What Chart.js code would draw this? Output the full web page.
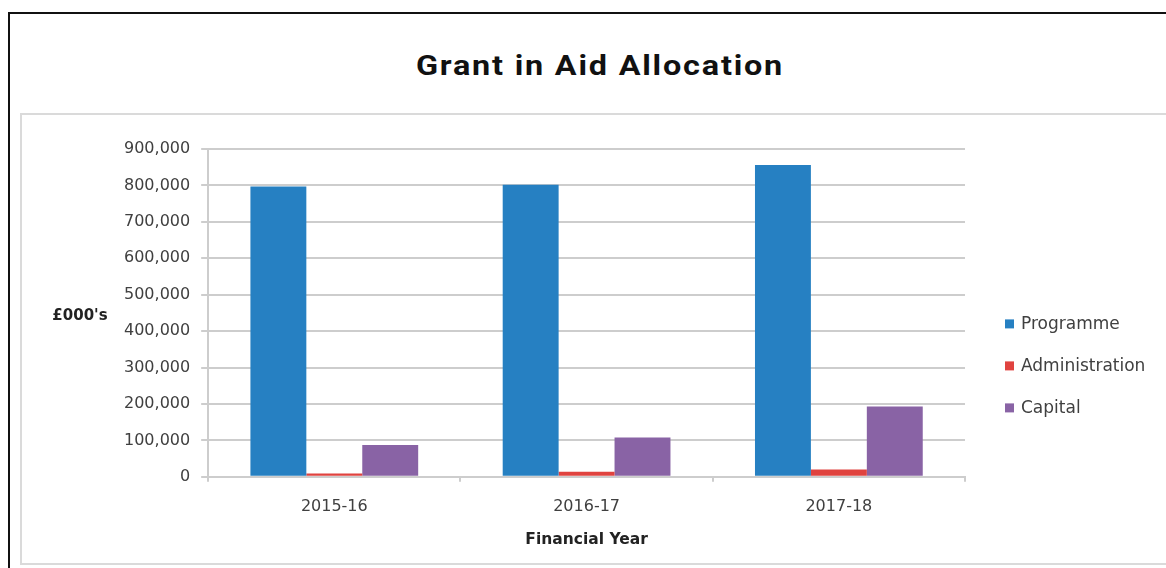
<!DOCTYPE html>
<html>
<head>
<meta charset="utf-8">
<script src="https://cdn.jsdelivr.net/npm/chart.js@4"></script>
<style>
  html, body { margin: 0; padding: 0; background: #fff; }
  body { width: 1166px; height: 568px; position: relative; overflow: hidden; }
  .outer {
    position: absolute; left: 8px; top: 12px; width: 1200px; height: 600px;
    border-top: 2px solid #111; border-left: 2px solid #111;
  }
  .title {
    position: absolute; left: 0; top: 50px; width: 1200px; text-align: center;
    font: 700 27px "Roboto", sans-serif; color: #111; letter-spacing: 1.5px;
    transform: scaleX(1.2); transform-origin: 600px 0;
  }
  .frame {
    position: absolute; left: 20px; top: 113px; width: 1200px; height: 448px;
    border: 2px solid #dadada; border-right: none;
  }
  .chart-box { position: absolute; left: 22px; top: 115px; width: 1144px; height: 446px; }
</style>
</head>
<body>
<div class="outer"></div>
<div class="title">Grant in Aid Allocation</div>
<div class="frame"></div>
<div class="chart-box"><canvas id="grantChart"></canvas></div>
<script>
const years = ['2015-16', '2016-17', '2017-18']
const programme = [797000, 802000, 856000]
const administration = [9000, 14000, 20000]
const capital = [87000, 108000, 193000]
const yTicks = [0, 100000, 200000, 300000, 400000, 500000, 600000, 700000, 800000, 900000]

const gridGrey = '#cdcdcd'
const textGrey = '#404040'

// Excel style: horizontal y axis title and a legend drawn at the right
const sideText = {
  id: 'sideText',
  afterDraw(chart) {
    const ctx = chart.ctx
    const area = chart.chartArea
    const yScale = chart.scales.y
    const midY = (area.top + area.bottom) / 2
    ctx.save()
    ctx.fillStyle = '#222'
    ctx.font = '700 15px "DejaVu Sans"'
    ctx.textAlign = 'center'
    ctx.textBaseline = 'middle'
    ctx.fillText("£000's", yScale.left - 33, midY + 3)

    ctx.font = '17px "DejaVu Sans"'
    ctx.textAlign = 'left'
    chart.data.datasets.forEach((ds, i) => {
      const y = midY + 11.5 + i * 42
      ctx.fillStyle = ds.backgroundColor
      ctx.fillRect(area.right + 40, y - 5, 9, 9)
      ctx.fillStyle = textGrey
      ctx.fillText(ds.label, area.right + 56, y)
    })
    ctx.restore()
  }
}

new Chart(document.getElementById('grantChart'), {
  type: 'bar',
  data: {
    labels: years,
    datasets: [
      { label: 'Programme', data: programme, backgroundColor: '#2680c2' },
      { label: 'Administration', data: administration, backgroundColor: '#e0433f' },
      { label: 'Capital', data: capital, backgroundColor: '#8963a5' }
    ]
  },
  options: {
    responsive: true,
    maintainAspectRatio: false,
    animation: false,
    layout: { padding: { left: 91, right: 201, top: 34, bottom: 9.5 } },
    datasets: { bar: { categoryPercentage: 0.665, barPercentage: 1.0 } },
    plugins: {
      legend: { display: false },
      tooltip: { enabled: false }
    },
    scales: {
      x: {
        grid: { drawOnChartArea: false, drawTicks: true, tickLength: 5, color: gridGrey, lineWidth: 2 },
        border: { color: gridGrey, width: 2 },
        ticks: { color: textGrey, padding: 15.5, font: { family: 'DejaVu Sans', size: 16 } },
        title: {
          display: true, text: 'Financial Year', color: '#222',
          font: { family: 'DejaVu Sans', size: 15.5, weight: 'bold', lineHeight: 1.0 },
          padding: { top: 0, bottom: 4 }
        }
      },
      y: {
        min: 0,
        max: 900000,
        afterBuildTicks(scale) { scale.ticks = yTicks.map(v => ({ value: v })) },
        grid: { color: gridGrey, lineWidth: 2, tickLength: 7 },
        border: { color: gridGrey, width: 2 },
        ticks: {
          color: textGrey,
          padding: 11,
          font: { family: 'DejaVu Sans', size: 16 },
          callback: v => v.toLocaleString('en-GB')
        }
      }
    }
  },
  plugins: [sideText]
})
</script>
</body>
</html>
